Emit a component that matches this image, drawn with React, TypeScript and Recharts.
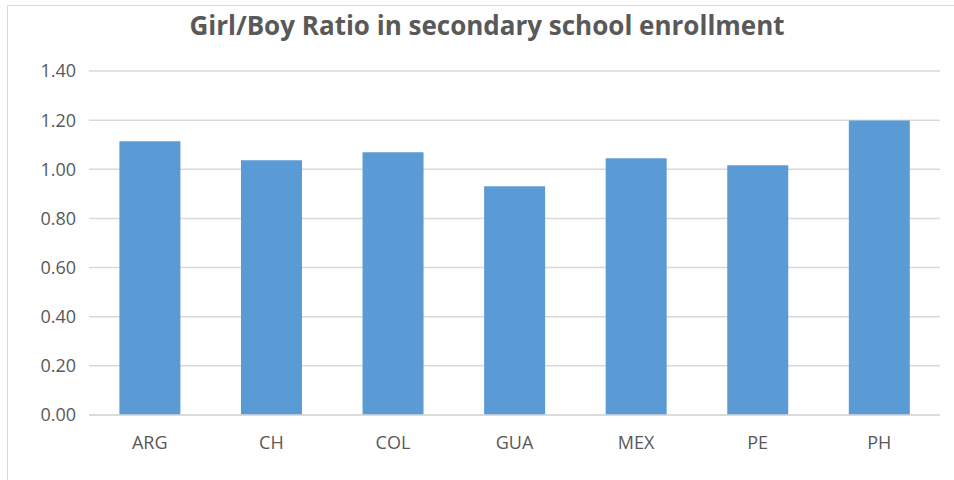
import React from "react";
import { BarChart, Bar, XAxis, YAxis, CartesianGrid } from "recharts";

const countries = ["ARG", "CH", "COL", "GUA", "MEX", "PE", "PH"];
const ratios = [1.114, 1.037, 1.069, 0.931, 1.045, 1.016, 1.199];
const yTicks = [0, 0.2, 0.4, 0.6, 0.8, 1.0, 1.2, 1.4];

const data = countries.map((name, i) => ({ name, ratio: ratios[i] }));

const FONT = "'Open Sans', sans-serif";
const TEXT = "#595959";
const GRID = "#d9d9d9";

const App = () => {
  return (
    <div
      style={{
        position: "absolute",
        left: 0,
        top: 0,
        width: 954,
        height: 480,
        background: "#fff",
        overflow: "hidden",
      }}
    >
      {/* outer frame, only top and left edges show */}
      <div
        style={{
          position: "absolute",
          left: 7,
          top: 5,
          width: 960,
          height: 490,
          border: "1px solid #d9d9d9",
        }}
      />
      <div
        style={{
          position: "absolute",
          left: 0,
          top: 7,
          width: 974,
          textAlign: "center",
          fontFamily: FONT,
          fontWeight: 700,
          fontSize: 26,
          color: TEXT,
          lineHeight: "36px",
        }}
      >
        Girl/Boy Ratio in secondary school enrollment
      </div>
      <div style={{ position: "absolute", left: 0, top: 0 }}>
        <BarChart
          width={954}
          height={480}
          data={data}
          margin={{ top: 71, right: 14, bottom: 25, left: 0 }}
          barCategoryGap="25%"
        >
          <CartesianGrid vertical={false} stroke={GRID} strokeWidth={1.5} />
          <XAxis
            dataKey="name"
            tickLine={false}
            axisLine={{ stroke: GRID, strokeWidth: 1.5 }}
            tickSize={0}
            tickMargin={21}
            height={40}
            tick={{ fill: TEXT, fontSize: 18, fontFamily: FONT }}
          />
          <YAxis
            width={89}
            domain={[0, 1.4]}
            ticks={yTicks}
            tickFormatter={(v: number) => v.toFixed(2)}
            tickLine={false}
            axisLine={false}
            tickSize={0}
            tickMargin={13}
            tick={{ fill: TEXT, fontSize: 18, fontFamily: FONT }}
          />
          <Bar dataKey="ratio" fill="#5b9bd5" isAnimationActive={false} />
        </BarChart>
      </div>
    </div>
  );
};

export default App;
